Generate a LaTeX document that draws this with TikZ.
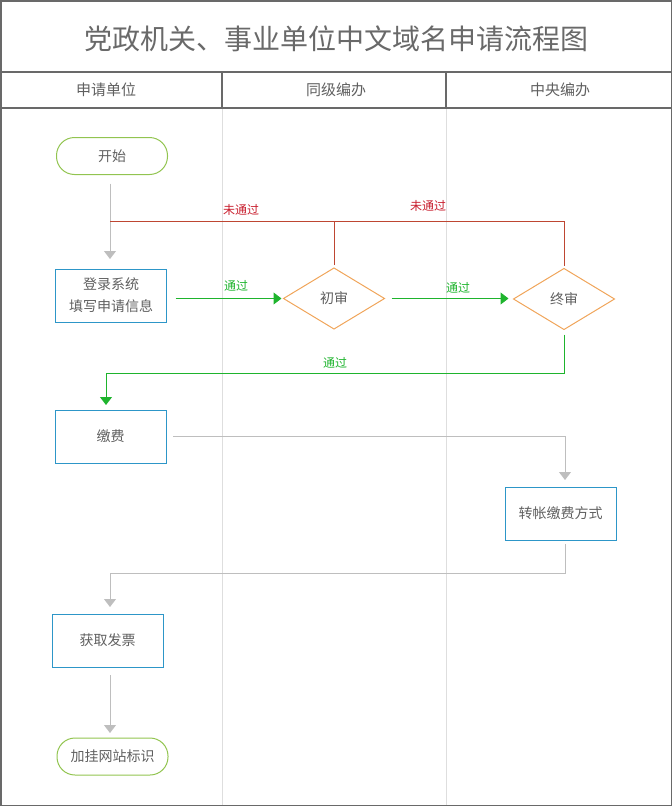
\documentclass[tikz,border=0pt]{standalone}
\usepackage{fontspec}
\newfontfamily\cjk{Noto Sans CJK SC}
\usetikzlibrary{shapes.geometric,arrows.meta}

\definecolor{framegray}{RGB}{105,105,105}
\definecolor{lanegray}{RGB}{222,222,222}
\definecolor{textgray}{RGB}{95,95,95}
\definecolor{termgreen}{RGB}{146,196,80}
\definecolor{boxblue}{RGB}{45,150,200}
\definecolor{diaorange}{RGB}{240,165,90}
\definecolor{passgreen}{RGB}{30,180,45}
\definecolor{failred}{RGB}{190,70,50}
\definecolor{labelred}{RGB}{200,30,45}
\definecolor{flowgray}{RGB}{190,190,190}

\begin{document}
\begin{tikzpicture}[x=1pt,y=-1pt,
  every node/.style={font=\cjk\fontsize{14pt}{22pt}\selectfont, text=textgray, inner sep=0pt, outer sep=0pt},
  terminal/.style={draw=termgreen, line width=1pt, rounded corners=18pt, minimum width=111pt, minimum height=37pt},
  procbox/.style={draw=boxblue, line width=1pt, minimum width=111pt, minimum height=53pt, align=center},
  decision/.style={draw=diaorange, line width=1pt, diamond, minimum width=101pt, minimum height=61pt},
  flow/.style={draw=flowgray, line width=1pt, -{Triangle[width=12pt,length=8pt]}},
  pass/.style={draw=passgreen, line width=1pt, -{Triangle[width=12pt,length=8pt]}},
  fail/.style={draw=failred, line width=1pt},
  passlabel/.style={font=\cjk\fontsize{12pt}{12pt}\selectfont, text=passgreen},
  faillabel/.style={font=\cjk\fontsize{12pt}{12pt}\selectfont, text=labelred}]
\useasboundingbox (0,0) rectangle (672,806);

\draw[lanegray, line width=1pt] (222,108) -- (222,805);
\draw[lanegray, line width=1pt] (446,108) -- (446,805);
\draw[framegray, line width=1.2pt] (0,72) -- (672,72);
\draw[framegray, line width=1.2pt] (0,108) -- (672,108);
\draw[framegray, line width=1.2pt] (222,72) -- (222,108);
\draw[framegray, line width=1.2pt] (446,72) -- (446,108);
\draw[framegray, line width=1.5pt] (0.75,0.75) rectangle (671.25,805.25);

\node[font=\cjk\fontsize{28pt}{28pt}\selectfont, text=framegray] (title) at (336,39) {党政机关、事业单位中文域名申请流程图};
\node[font=\cjk\fontsize{15pt}{15pt}\selectfont] (lane1) at (106,90) {申请单位};
\node[font=\cjk\fontsize{15pt}{15pt}\selectfont] (lane2) at (336,90) {同级编办};
\node[font=\cjk\fontsize{15pt}{15pt}\selectfont] (lane3) at (560,90) {中央编办};

\node[terminal] (start) at (112,156) {开始};
\node[procbox] (login) at (111,295.5) {登录系统\\填写申请信息};
\node[decision] (first) at (334,298.5) {初审};
\node[decision] (final) at (564,299) {终审};
\node[procbox] (pay) at (110.5,436.5) {缴费};
\node[procbox] (transfer) at (560.5,513.5) {转帐缴费方式};
\node[procbox] (invoice) at (107.5,640.5) {获取发票};
\node[terminal] (mark) at (112.5,756.5) {加挂网站标识};

\coordinate (join) at (110,221);
\coordinate (bend1) at (106,373);
\coordinate (bend2) at (110,573);

\draw[flow, shorten <=9pt, shorten >=10pt] (start.south -| join) -- (login.north -| join);
\draw[fail] ([yshift=3pt]first.north) |- (join);
\draw[fail] ([yshift=3pt]final.north) |- (join);
\draw[pass, shorten <=9pt, shorten >=2pt] (login.east |- first.west) -- (first.west);
\draw[pass, shorten <=7pt, shorten >=5pt] (first.east) -- (first.east -| final.west);
\draw[pass, shorten >=5pt] ([yshift=-5pt]final.south) |- (bend1) -- (bend1 |- pay.north);
\draw[flow, shorten >=7pt] ([xshift=7pt]pay.east) -| ([xshift=4.5pt]transfer.north);
\draw[flow, shorten >=7pt] ([xshift=4.5pt,yshift=-4pt]transfer.south) |- (bend2) -- (bend2 |- invoice.north);
\draw[flow, shorten <=8pt, shorten >=5pt] (invoice.south -| bend2) -- (mark.north -| bend2);

\node[faillabel] (fail1) at (241,210) {未通过};
\node[faillabel] (fail2) at (428,206) {未通过};
\node[passlabel] (pass1) at (236,286) {通过};
\node[passlabel] (pass2) at (458,288) {通过};
\node[passlabel] (pass3) at (335,363) {通过};
\end{tikzpicture}
\end{document}
